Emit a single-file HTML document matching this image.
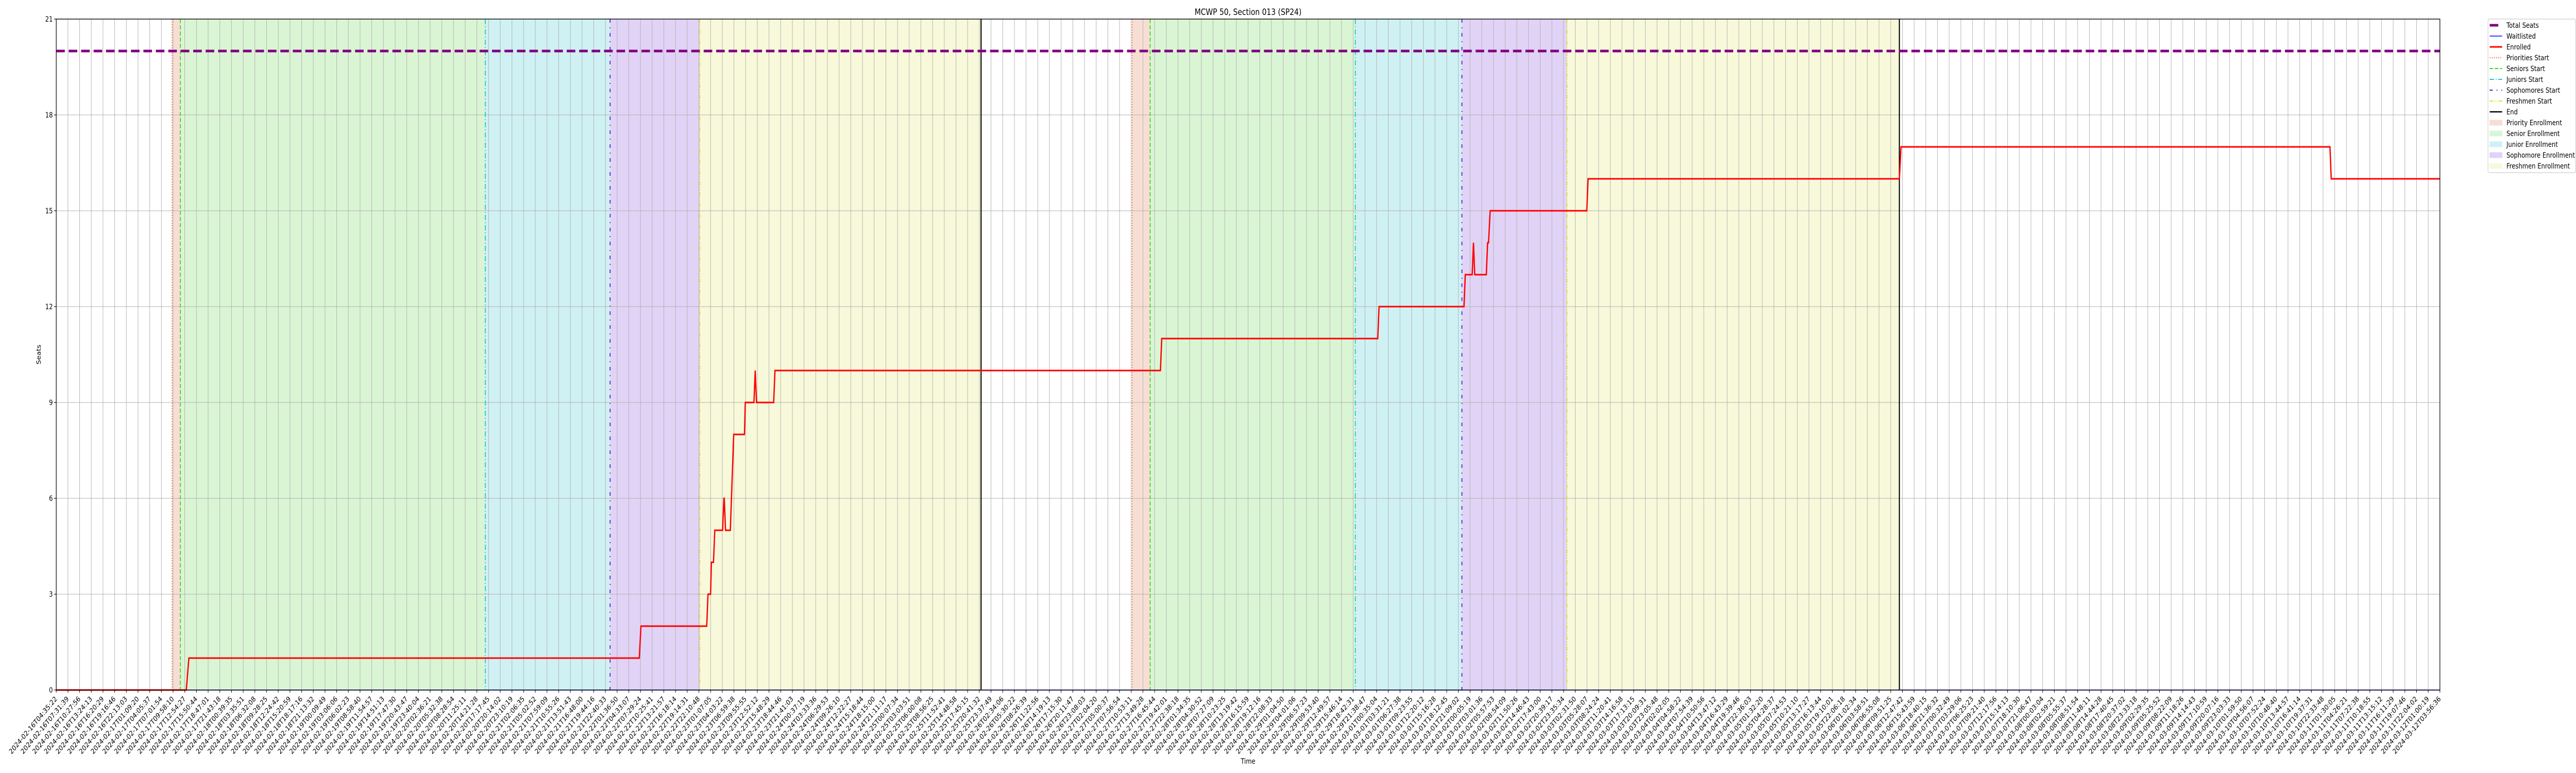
<!DOCTYPE html>
<html>
<head>
<meta charset="utf-8">
<style>
html,body{margin:0;padding:0;background:#fff;overflow:hidden;width:100%;height:100%;}
svg{display:block;width:100vw;height:100vh;font-family:"DejaVu Sans","Liberation Sans",sans-serif;}
</style>
</head>
<body>
<svg id="chart" viewBox="0 0 6000 1500" preserveAspectRatio="none" xmlns="http://www.w3.org/2000/svg">
  <rect x="0" y="0" width="6000" height="1500" fill="#fff"/>
  <g id="spans"></g>
  <g id="grid"></g>
  <g id="phaselines"></g>
  <g id="series"></g>
  <g id="axes"></g>
  <text x="2907" y="29" font-size="16.7" text-anchor="middle" fill="#000">MCWP 50, Section 013 (SP24)</text>
  <text x="2907" y="1482" font-size="13.9" text-anchor="middle" fill="#000">Time</text>
  <text x="0" y="0" font-size="13.9" text-anchor="middle" transform="translate(95,688) rotate(-90)" fill="#000">Seats</text>
  <g id="legend"></g>
</svg>
<script>
// ---- data ----
const tickStart = "2024-02-16T04:35:22";
const tickEnd = "2024-03-12T03:56:36";
const tickCount = 205;
const yTicks = [0, 3, 6, 9, 12, 15, 18, 21];
const totalSeats = 20;
const waitlisted = 0;
// enrolled polyline vertices (x in tick-index units)
const enrollIdx = [0, 11.13, 11.35, 49.90, 50.04, 55.67, 55.78, 56.00, 56.07, 56.25, 56.36, 57.03, 57.14, 57.17, 57.28, 57.69, 57.98, 58.90, 58.97, 59.71, 59.82, 59.93, 61.40, 61.51, 94.50, 94.61, 113.10, 113.21, 120.48, 120.59, 121.18, 121.29, 121.40, 122.39, 122.50, 122.58, 122.72, 130.99, 131.10, 157.74, 157.88, 194.59, 194.70, 204];
const enrollVal = [0, 0, 1, 1, 2, 2, 3, 3, 4, 4, 5, 5, 6, 6, 5, 5, 8, 8, 9, 9, 10, 9, 9, 10, 10, 11, 11, 12, 12, 13, 13, 14, 13, 13, 14, 14, 15, 15, 16, 16, 17, 17, 16, 16];
// phase boundaries per cycle (tick-index units)
const prioritiesStart = [9.92, 92.08];
const seniorsStart = [10.62, 93.62];
const juniorsStart = [36.72, 111.18];
const sophomoresStart = [47.40, 120.30];
const freshmenStart = [55.08, 129.30];
const endTimes = [79.15, 157.74];

// ---- layout ----
const L = 131, R = 5683, T = 37, B = 1339;
const yMax = 21;
const NS = "http://www.w3.org/2000/svg";
function xs(i){ return L + i * (R - L) / (tickCount - 1); }
function ys(v){ return B - v * (B - T) / yMax; }
function mk(tag, attrs, parent){
  const e = document.createElementNS(NS, tag);
  for (const k in attrs) e.setAttribute(k, attrs[k]);
  parent.appendChild(e);
  return e;
}
function pad(n){ return (n < 10 ? "0" : "") + n; }
const t0 = Date.parse(tickStart + "Z"), t1 = Date.parse(tickEnd + "Z");
const tickLabels = [];
for (let i = 0; i < tickCount; i++) {
  const d = new Date(t0 + Math.round((t1 - t0) * i / (tickCount - 1) / 1000) * 1000);
  tickLabels.push(d.getUTCFullYear() + "-" + pad(d.getUTCMonth() + 1) + "-" + pad(d.getUTCDate()) + "T" + pad(d.getUTCHours()) + ":" + pad(d.getUTCMinutes()) + ":" + pad(d.getUTCSeconds()));
}

// spans
const spans = document.getElementById("spans");
const spanDefs = [
  ["priority-enrollment-span", prioritiesStart, seniorsStart, "#f7ded4"],
  ["senior-enrollment-span", seniorsStart, juniorsStart, "#daf5d4"],
  ["junior-enrollment-span", juniorsStart, sophomoresStart, "#cff1f4"],
  ["sophomore-enrollment-span", sophomoresStart, freshmenStart, "#e1d3f6"],
  ["freshmen-enrollment-span", freshmenStart, endTimes, "#f8f9da"]
];
spanDefs.forEach(sd => {
  for (let c = 0; c < sd[1].length; c++) {
    const r = mk("rect", {x: xs(sd[1][c]), y: T, width: xs(sd[2][c]) - xs(sd[1][c]), height: B - T, fill: sd[3]}, spans);
    
    
  }
});

// grid
const grid = document.getElementById("grid");
for (let i = 0; i < tickCount; i++) {
  const g = mk("line", {x1: xs(i), x2: xs(i), y1: T, y2: B, stroke: "#b0b0b0", "stroke-width": 1.1}, grid);
  
  
}
yTicks.forEach(v => {
  const g = mk("line", {x1: L, x2: R, y1: ys(v), y2: ys(v), stroke: "#b0b0b0", "stroke-width": 1.1}, grid);
  
  
});

// phase lines
const pl = document.getElementById("phaselines");
const lineDefs = [
  ["priorities-start-line", prioritiesStart, "#f0703a", "2,3", 2],
  ["seniors-start-line", seniorsStart, "#3fd01a", "8,4", 2],
  ["juniors-start-line", juniorsStart, "#17c7d0", "10,4,2,4", 2],
  ["sophomores-start-line", sophomoresStart, "#6a1fd8", "7,9,2,9", 2.2],
  ["freshmen-start-line", freshmenStart, "#e0e030", "8,3,2,3,2,3", 2],
  ["end-line", endTimes, "#000000", "none", 2.5]
];
lineDefs.forEach(ld => {
  ld[1].forEach(v => {
    const a = {x1: xs(v), x2: xs(v), y1: T, y2: B, stroke: ld[2], "stroke-width": ld[4]};
    if (ld[3] !== "none") a["stroke-dasharray"] = ld[3];
    const e = mk("line", a, pl);
    
    
  });
});

// series
const series = document.getElementById("series");
const ts = mk("line", {x1: L, x2: R, y1: ys(totalSeats), y2: ys(totalSeats), stroke: "#800080", "stroke-width": 5, "stroke-dasharray": "20,9"}, series);


const wl = mk("line", {x1: L, x2: R, y1: ys(waitlisted), y2: ys(waitlisted), stroke: "#0000ff", "stroke-width": 1.5}, series);


let pts = [];
for (let i = 0; i < enrollIdx.length; i++) pts.push(xs(enrollIdx[i]).toFixed(2) + "," + ys(enrollVal[i]).toFixed(2));
const en = mk("polyline", {points: pts.join(" "), fill: "none", stroke: "#ff0000", "stroke-width": 3, "stroke-linejoin": "miter"}, series);



// axes
const axes = document.getElementById("axes");
const frame = mk("rect", {x: L, y: T, width: R - L, height: B - T, fill: "none", stroke: "#000", "stroke-width": 1.4}, axes);


yTicks.forEach(v => {
  const tk = mk("line", {x1: L - 5, x2: L, y1: ys(v), y2: ys(v), stroke: "#000", "stroke-width": 1.2}, axes);
  
  
  const tl = mk("text", {x: L - 8, y: ys(v) + 5, "font-size": 13.9, "text-anchor": "end", fill: "#000"}, axes);
  tl.textContent = String(v);
  
  
});
for (let i = 0; i < tickCount; i++) {
  const x = xs(i);
  const tk = mk("line", {x1: x, x2: x, y1: B, y2: B + 5, stroke: "#000", "stroke-width": 1.2}, axes);
  
  
  const tl = mk("text", {x: 0, y: 0, "font-size": 13.9, "text-anchor": "end", fill: "#000", transform: "translate(" + (x + 3).toFixed(2) + "," + (B + 18) + ") rotate(-45)"}, axes);
  tl.textContent = tickLabels[i];
  
  
}

// legend
const lg = document.getElementById("legend");
const box = mk("rect", {x: 5795, y: 37, width: 204, height: 298, rx: 3, fill: "#fff", stroke: "#cccccc", "stroke-width": 1.2}, lg);


const legendItems = [
  ["Total Seats", "line", "#800080", 5, "20,9"],
  ["Waitlisted", "line", "#0000ff", 1.5, null],
  ["Enrolled", "line", "#ff0000", 3, null],
  ["Priorities Start", "line", "#f0703a", 2, "2,3"],
  ["Seniors Start", "line", "#3fd01a", 2, "8,4"],
  ["Juniors Start", "line", "#17c7d0", 2, "10,4,2,4"],
  ["Sophomores Start", "line", "#6a1fd8", 2.2, "7,9,2,9"],
  ["Freshmen Start", "line", "#e0e030", 2, "8,3,2,3,2,3"],
  ["End", "line", "#000000", 2.5, null],
  ["Priority Enrollment", "patch", "#f7ded4"],
  ["Senior Enrollment", "patch", "#daf5d4"],
  ["Junior Enrollment", "patch", "#cff1f4"],
  ["Sophomore Enrollment", "patch", "#e1d3f6"],
  ["Freshmen Enrollment", "patch", "#f8f9da"]
];
legendItems.forEach((it, k) => {
  const cy = 49 + k * 21;
  const g = mk("g", {}, lg);
  
  
  if (it[1] === "line") {
    const a = {x1: 5799, x2: 5828, y1: cy, y2: cy, stroke: it[2], "stroke-width": it[3]};
    if (it[4]) a["stroke-dasharray"] = it[4];
    mk("line", a, g);
  } else {
    mk("rect", {x: 5799, y: cy - 5, width: 29, height: 10, fill: it[2], stroke: it[2]}, g);
  }
  const t = mk("text", {x: 5838, y: cy + 5, "font-size": 13.9, fill: "#000"}, g);
  t.textContent = it[0];
});
</script>
</body>
</html>
